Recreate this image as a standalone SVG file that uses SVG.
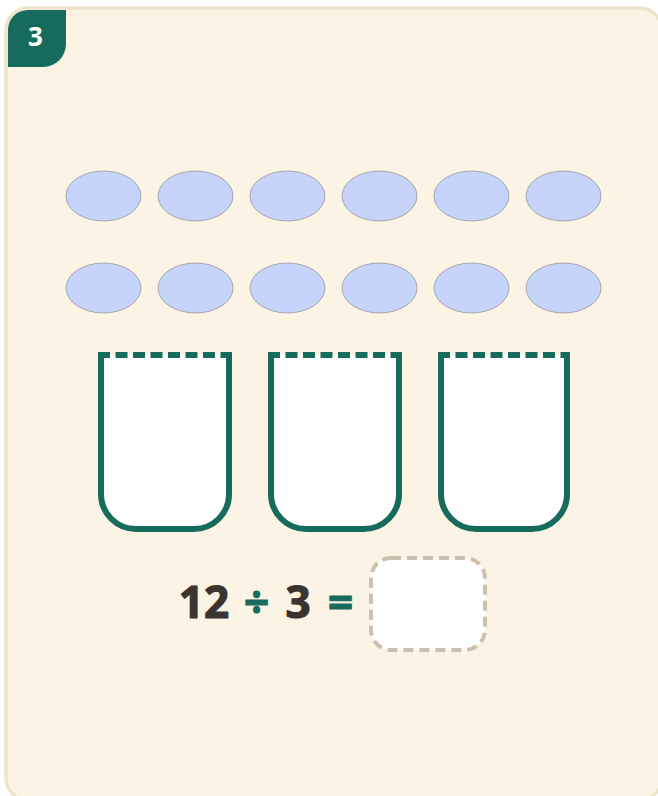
<svg xmlns="http://www.w3.org/2000/svg" width="658" height="796" viewBox="0 0 658 796">
<style>
.dot{fill:#c5d4f8;stroke:#8c8c94;stroke-width:0.7}
.cup{fill:#ffffff;stroke:#176b5c;stroke-width:6}
.cuptop{fill:none;stroke:#176b5c;stroke-width:6;stroke-dasharray:12 5.5}
.num{font-family:"Noto Sans","DejaVu Sans",sans-serif;font-weight:700;font-size:44px;text-anchor:middle;stroke-width:1.2;stroke-linejoin:round}
</style>
<rect width="658" height="796" fill="#ffffff"/>
<g id="card">
<rect x="6" y="8" width="656" height="792" rx="22" fill="#fbf3e4" stroke="#efe3cb" stroke-width="3.5"/>
</g>
<g id="badge">
<path d="M8,30 A20,20 0 0 1 28,10 H66 V44 A23,23 0 0 1 43,67 H8 Z" fill="#176b5c"/>
<text x="35.5" y="46" font-family="'Noto Sans','DejaVu Sans',sans-serif" font-weight="700" font-size="26" fill="#ffffff" text-anchor="middle">3</text>
</g>
<g id="dots">
<ellipse class="dot" cx="103.5" cy="196" rx="37.5" ry="25"/>
<ellipse class="dot" cx="195.5" cy="196" rx="37.5" ry="25"/>
<ellipse class="dot" cx="287.5" cy="196" rx="37.5" ry="25"/>
<ellipse class="dot" cx="379.5" cy="196" rx="37.5" ry="25"/>
<ellipse class="dot" cx="471.5" cy="196" rx="37.5" ry="25"/>
<ellipse class="dot" cx="563.5" cy="196" rx="37.5" ry="25"/>
<ellipse class="dot" cx="103.5" cy="288" rx="37.5" ry="25"/>
<ellipse class="dot" cx="195.5" cy="288" rx="37.5" ry="25"/>
<ellipse class="dot" cx="287.5" cy="288" rx="37.5" ry="25"/>
<ellipse class="dot" cx="379.5" cy="288" rx="37.5" ry="25"/>
<ellipse class="dot" cx="471.5" cy="288" rx="37.5" ry="25"/>
<ellipse class="dot" cx="563.5" cy="288" rx="37.5" ry="25"/>
</g>
<g id="cup1">
<path class="cup" d="M101,355 V494 A35,35 0 0 0 136,529 H194 A35,35 0 0 0 229,494 V355"/>
<line class="cuptop" x1="98" y1="355" x2="232" y2="355"/>
</g>
<g id="cup2">
<path class="cup" d="M271,355 V494 A35,35 0 0 0 306,529 H364 A35,35 0 0 0 399,494 V355"/>
<line class="cuptop" x1="268" y1="355" x2="402" y2="355"/>
</g>
<g id="cup3">
<path class="cup" d="M441,355 V494 A35,35 0 0 0 476,529 H532 A35,35 0 0 0 567,494 V355"/>
<line class="cuptop" x1="438" y1="355" x2="570" y2="355"/>
</g>
<g id="equation">
<text class="num" x="204" y="618" fill="#3b3330" stroke="#3b3330">12</text>
<text class="num" x="256.5" y="618" fill="#176b5c" stroke="#176b5c">÷</text>
<text class="num" x="298" y="618" fill="#3b3330" stroke="#3b3330">3</text>
<text class="num" x="340.5" y="618" fill="#176b5c" stroke="#176b5c">=</text>
</g>
<g id="answer">
<rect x="371" y="558" width="114" height="92" rx="20" fill="#ffffff" stroke="#cbbfad" stroke-width="4" stroke-dasharray="10 6"/>
</g>
<g id="connectors"></g>
</svg>
